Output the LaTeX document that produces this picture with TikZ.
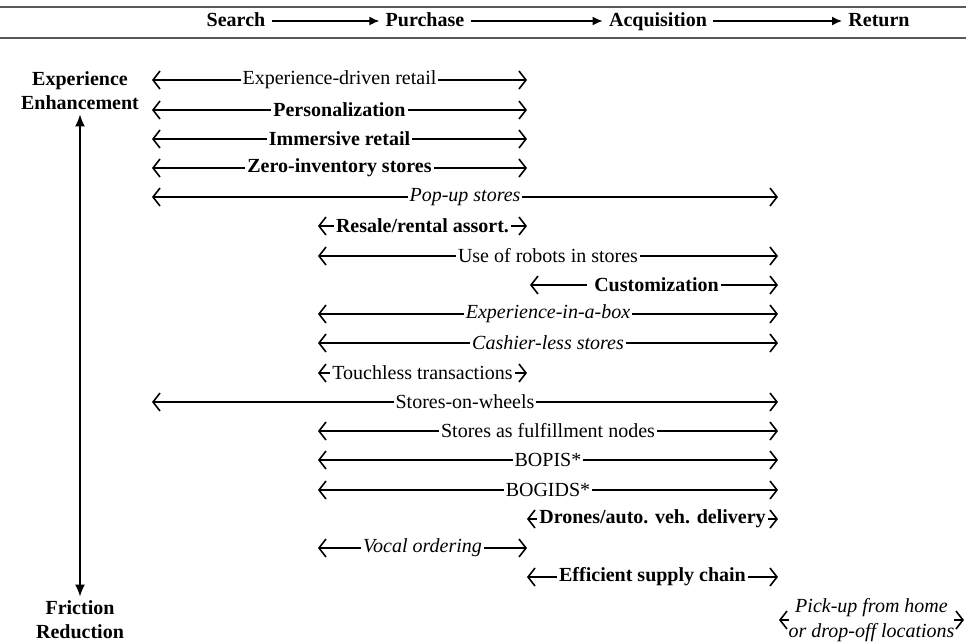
\documentclass[tikz,border=0pt]{standalone}
\usepackage{fontspec}
\setmainfont{Liberation Serif}
\usetikzlibrary{arrows.meta,positioning}
\tikzset{
  stage/.style={font=\bfseries,inner sep=3pt,text height=1.6ex,text depth=.3ex},
  axis/.style={align=center,font=\bfseries,inner sep=2pt},
  trend/.style={fill=white,inner sep=1pt},
  tplain/.style={},
  tbold/.style={font=\bfseries},
  tital/.style={font=\itshape},
  span/.style={<->,>={Straight Barb[length=3.5pt,width=9pt]},line width=0.8pt},
  flow/.style={-{Latex[length=5pt,width=4.5pt]},line width=0.8pt},
  rule/.style={draw=black!65,line width=1pt}
}
\begin{document}
\begin{tikzpicture}[x=0.5pt,y=-0.5pt]
  \useasboundingbox (0,0) rectangle (966,644);

  % journey stages
  \draw[rule] (0,7) -- (966,7);
  \draw[rule] (0,38) -- (966,38);
  \node[stage] (search) at (236,21) {Search};
  \node[stage] (purchase) at (425,21) {Purchase};
  \node[stage] (acquisition) at (658,21) {Acquisition};
  \node[stage] (return) at (879,21) {Return};
  \draw[flow] (search) -- (purchase);
  \draw[flow] (purchase) -- (acquisition);
  \draw[flow] (acquisition) -- (return);

  % axis
  \node[axis] (enh) at (80,91) {Experience\\Enhancement};
  \node[axis] (fric) at (80,620) {Friction\\Reduction};
  \draw[{Latex[length=6pt,width=5pt]}-{Latex[length=6pt,width=5pt]},line width=0.8pt] (enh) -- (fric);

  % trends
  \foreach \y/\a/\b/\f/\t [count=\i] in {
    80/152/527/tplain/{Experience-driven retail},
    110/152/527/tbold/{Personalization},
    139/152/527/tbold/{Immersive retail},
    168/152/527/tbold/{Zero-inventory stores},
    197/152/778/tital/{Pop-up stores},
    226/318/527/tbold/{Resale/rental assort.},
    256/318/778/tplain/{Use of robots in stores},
    285/530/778/tbold/{\ Customization\ },
    314/318/778/tital/{Experience-in-a-box},
    343/318/778/tital/{Cashier-less stores},
    373/318/527/tplain/{Touchless transactions},
    402/152/778/tplain/{Stores-on-wheels},
    431/318/778/tplain/{Stores as fulfillment nodes},
    460/318/778/tplain/{BOPIS*},
    490/318/778/tplain/{BOGIDS*},
    519/527/778/tbold/{Drones/auto. veh. delivery},
    548/318/527/tital/{Vocal ordering},
    577/527/778/tbold/{Efficient supply chain}} {
    \coordinate (l\i) at (\a,\y);
    \coordinate (r\i) at (\b,\y);
    \draw[span] (l\i) -- node[trend,\f] (t\i) {\t} (r\i);
  }
  \coordinate (l19) at (779,620);
  \coordinate (r19) at (964,620);
  \draw[span] (l19) -- node[trend,tital,align=center,inner sep=0pt] (t19)
    {Pick-up from home\\[0.5pt]or drop-off locations} (r19);
\end{tikzpicture}
\end{document}
